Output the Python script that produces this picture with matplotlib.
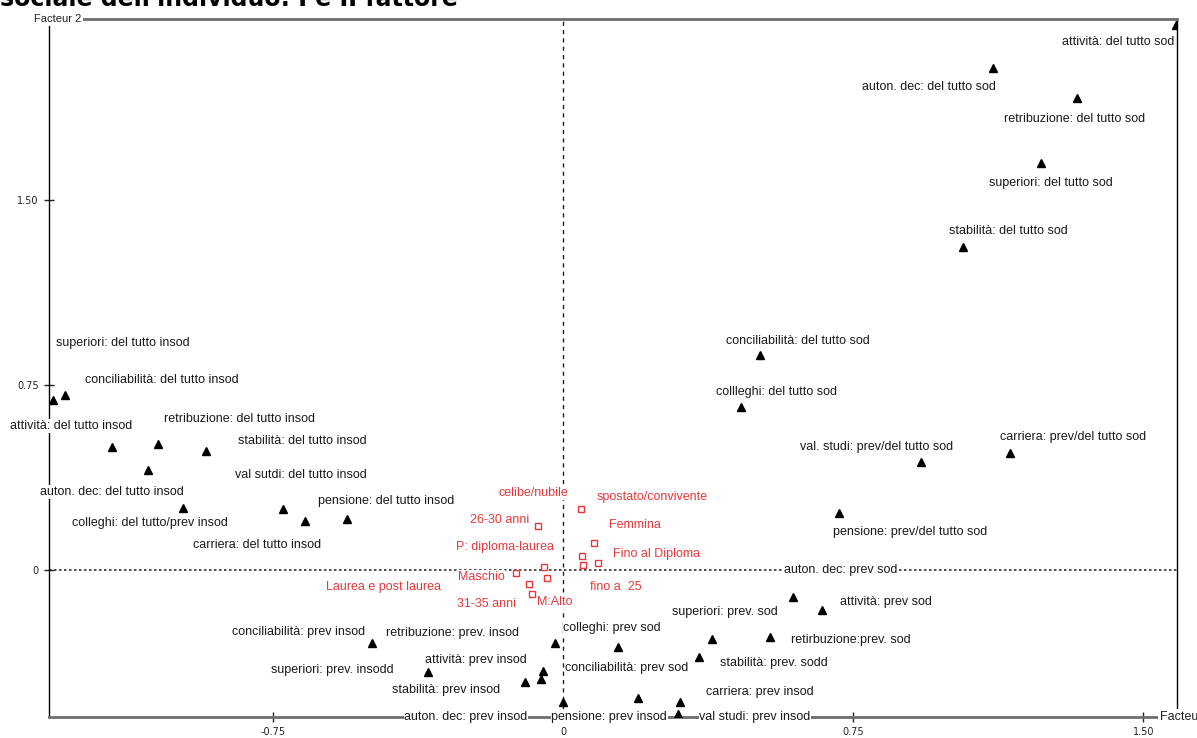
import matplotlib
matplotlib.use("Agg")
import matplotlib.pyplot as plt
from matplotlib import font_manager

# ---------------- data ----------------
title = "sociale dell'individuo: I e II fattore"

mod_labels = [
    "attività: del tutto sod", "auton. dec: del tutto sod", "retribuzione: del tutto sod",
    "superiori: del tutto sod", "stabilità: del tutto sod", "conciliabilità: del tutto sod",
    "collleghi: del tutto sod", "val. studi: prev/del tutto sod", "carriera: prev/del tutto sod",
    "pensione: prev/del tutto sod",
    "superiori: del tutto insod", "conciliabilità: del tutto insod", "attività: del tutto insod",
    "retribuzione: del tutto insod", "stabilità: del tutto insod", "auton. dec: del tutto insod",
    "colleghi: del tutto/prev insod", "val sutdi: del tutto insod", "carriera: del tutto insod",
    "pensione: del tutto insod",
    "conciliabilità: prev insod", "superiori: prev. insodd", "retribuzione: prev. insod",
    "attività: prev insod", "auton. dec: prev insod", "stabilità: prev insod",
    "colleghi: prev sod", "superiori: prev. sod", "stabilità: prev. sodd",
    "auton. dec: prev sod", "attività: prev sod", "retirbuzione:prev. sod",
    "pensione: prev insod", "conciliabilità: prev sod", "carriera: prev insod",
    "val studi: prev insod",
]
mod_f1 = [1.583, 1.111, 1.328, 1.235, 1.034, 0.509, 0.460, 0.925, 1.155, 0.713,
          -1.318, -1.287, -1.165, -1.047, -0.922, -1.072, -0.982, -0.724, -0.667, -0.558,
          -0.494, -0.349, -0.021, -0.052, -0.057, -0.098,
          0.142, 0.385, 0.351, 0.594, 0.669, 0.535, 0.000, 0.194, 0.302, 0.297]
mod_f2 = [2.209, 2.035, 1.913, 1.650, 1.309, 0.872, 0.661, 0.438, 0.474, 0.231,
          0.689, 0.709, 0.499, 0.511, 0.482, 0.405, 0.251, 0.247, 0.199, 0.207,
          -0.296, -0.413, -0.296, -0.409, -0.442, -0.454,
          -0.312, -0.280, -0.353, -0.109, -0.162, -0.272, -0.535, -0.519, -0.535, -0.584]

sup_labels = ["26-30 anni", "spostato/convivente", "Femmina", "Fino al Diploma", "fino a  25",
              "celibe/nubile", "P: diploma-laurea", "Maschio", "Laurea e post laurea",
              "31-35 anni", "M:Alto"]
sup_f1 = [-0.065, 0.047, 0.080, 0.090, 0.052, 0.049, -0.049, -0.121, -0.088, -0.080, -0.041]
sup_f2 = [0.178, 0.247, 0.109, 0.028, 0.020, 0.057, 0.012, -0.012, -0.057, -0.097, -0.032]

xticks = [-0.75, 0, 0.75, 1.50]
xtick_labels = ["-0.75", "0", "0.75", "1.50"]
yticks = [0, 0.75, 1.50]
ytick_labels = ["0", "0.75", "1.50"]

# ---------------- layout (label offsets in pixels: dx, dy, ha) ----------------
offsets = {
    "attività: del tutto sod": (-1, -17, "right"),
    "auton. dec: del tutto sod": (3, -19, "right"),
    "retribuzione: del tutto sod": (-2, -21, "center"),
    "superiori: del tutto sod": (10, -20, "center"),
    "stabilità: del tutto sod": (45, 16, "center"),
    "conciliabilità: del tutto sod": (38, 14, "center"),
    "collleghi: del tutto sod": (35, 15, "center"),
    "val. studi: prev/del tutto sod": (-44, 15, "center"),
    "carriera: prev/del tutto sod": (63, 16, "center"),
    "pensione: prev/del tutto sod": (71, -19, "center"),
    "superiori: del tutto insod": (70, 57, "center"),
    "conciliabilità: del tutto insod": (97, 15, "center"),
    "attività: del tutto insod": (-41, 21, "center"),
    "retribuzione: del tutto insod": (82, 25, "center"),
    "stabilità: del tutto insod": (96, 10, "center"),
    "auton. dec: del tutto insod": (-36, -22, "center"),
    "colleghi: del tutto/prev insod": (-33, -15, "center"),
    "val sutdi: del tutto insod": (18, 34, "center"),
    "carriera: del tutto insod": (-48, -24, "center"),
    "pensione: del tutto insod": (39, 18, "center"),
    "conciliabilità: prev insod": (-73, 11, "center"),
    "superiori: prev. insodd": (-96, 2, "center"),
    "retribuzione: prev. insod": (-102, 10, "center"),
    "attività: prev insod": (-67, 11, "center"),
    "auton. dec: prev insod": (-75, -38, "center"),
    "stabilità: prev insod": (-79, -8, "center"),
    "colleghi: prev sod": (-6, 19, "center"),
    "superiori: prev. sod": (13, 27, "center"),
    "stabilità: prev. sodd": (75, -6, "center"),
    "auton. dec: prev sod": (48, 27, "center"),
    "attività: prev sod": (64, 8, "center"),
    "retirbuzione:prev. sod": (81, -3, "center"),
    "pensione: prev insod": (46, -15, "center"),
    "conciliabilità: prev sod": (-11, 30, "center"),
    "carriera: prev insod": (80, 10, "center"),
    "val studi: prev insod": (77, -3, "center"),
    "26-30 anni": (-38, 6, "center"),
    "spostato/convivente": (71, 12, "center"),
    "Femmina": (41, 18, "center"),
    "Fino al Diploma": (59, 9, "center"),
    "fino a  25": (33, -22, "center"),
    "celibe/nubile": (-49, 63, "center"),
    "P: diploma-laurea": (-39, 20, "center"),
    "Maschio": (-35, -4, "center"),
    "Laurea e post laurea": (-145, -3, "center"),
    "31-35 anni": (-46, -10, "center"),
    "M:Alto": (8, -24, "center"),
}

available = {f.name for f in font_manager.fontManager.ttflist}
if "Liberation Sans Narrow" in available:
    lab_family = ["Liberation Sans Narrow", "DejaVu Sans"]
    lab_size = 10.5
else:
    lab_family = ["Liberation Sans", "DejaVu Sans"]
    lab_size = 9

W, H = 1197, 738
fig = plt.figure(figsize=(W / 100, H / 100), dpi=100)
ax = fig.add_axes([49 / W, 21 / H, 1128 / W, 698 / H])
ax.set_xlim(-1.3282, 1.5866)
ax.set_ylim(-0.5959, 2.2335)

ax.axvline(0, color="#222222", lw=1.0, ls=(0, (3, 3)), zorder=1)
ax.axhline(0, color="#333333", lw=1.2, ls=(0, (1.5, 1.5)), zorder=1)

ax.plot(mod_f1, mod_f2, ls="none", marker="^", ms=6, color="black", zorder=4)
ax.plot(sup_f1, sup_f2, ls="none", marker="s", ms=5, mfc="white", mec="#e8383a",
        mew=1.0, zorder=4)

box = dict(boxstyle="square,pad=0.05", fc="white", ec="none")
for lab, x, y in zip(mod_labels, mod_f1, mod_f2):
    dx, dy, ha = offsets[lab]
    ax.annotate(lab, xy=(x, y), xytext=(dx, dy), textcoords="offset pixels",
                ha=ha, va="center", fontsize=lab_size, family=lab_family,
                color="#1a1a1a", bbox=box, zorder=5, annotation_clip=False)
for lab, x, y in zip(sup_labels, sup_f1, sup_f2):
    dx, dy, ha = offsets[lab]
    ax.annotate(lab, xy=(x, y), xytext=(dx, dy), textcoords="offset pixels",
                ha=ha, va="center", fontsize=lab_size, family=lab_family,
                color="#e8383a", bbox=box, zorder=5, annotation_clip=False)

for s in ["top", "bottom"]:
    ax.spines[s].set_color("#6e6e6e")
    ax.spines[s].set_linewidth(2)
for s in ["left", "right"]:
    ax.spines[s].set_color("black")
    ax.spines[s].set_linewidth(1)

ax.set_xticks(xticks)
ax.set_xticklabels(xtick_labels)
ax.set_yticks(yticks)
ax.set_yticklabels(ytick_labels)
ax.tick_params(direction="inout", length=7, width=1, labelsize=7, colors="#222222",
               pad=4)

fig.text(58 / W, 1 - 19 / H, "Facteur 2", ha="center", va="center", fontsize=8,
         family=lab_family, color="#222222",
         bbox=dict(boxstyle="square,pad=0.15", fc="white", ec="none"), zorder=10)
fig.text(1160 / W, 1 - 717 / H, "Facteur 1", ha="left", va="center", fontsize=9,
         family=lab_family, color="#222222",
         bbox=dict(boxstyle="square,pad=0.15", fc="white", ec="none"), zorder=10)

fig.text(0.0, 1 - 6 / H, title, ha="left", va="baseline", fontsize=17,
         fontweight="bold", family="DejaVu Sans", color="black")

fig.savefig("out.png", dpi=100)
